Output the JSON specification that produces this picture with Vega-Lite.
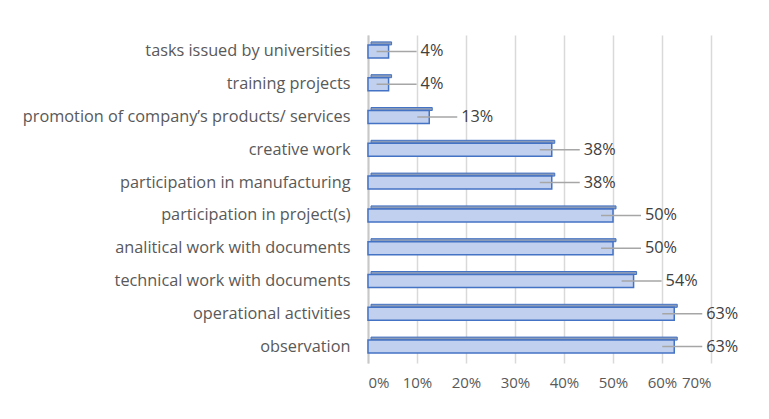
{
  "$schema": "https://vega.github.io/schema/vega-lite/v6.json",
  "autosize": {"type": "none"},
  "width": 343,
  "height": 328,
  "padding": {"left": 368, "top": 35, "right": 58, "bottom": 56},
  "background": "white",
  "config": {
    "view": {"stroke": null},
    "font": "Open Sans",
    "axis": {"labelFont": "Open Sans", "labelFontSize": 16.3, "labelColor": "#595959"}
  },
  "data": {
    "values": [
      {"activity": "tasks issued by universities", "share": 0.042},
      {"activity": "training projects", "share": 0.042},
      {"activity": "promotion of company’s products/ services", "share": 0.125},
      {"activity": "creative work", "share": 0.375},
      {"activity": "participation in manufacturing", "share": 0.375},
      {"activity": "participation in project(s)", "share": 0.5},
      {"activity": "analitical work with documents", "share": 0.5},
      {"activity": "technical work with documents", "share": 0.542},
      {"activity": "operational activities", "share": 0.625},
      {"activity": "observation", "share": 0.625}
    ]
  },
  "encoding": {
    "y": {
      "field": "activity",
      "type": "nominal",
      "sort": null,
      "title": null,
      "axis": {
        "domain": true,
        "domainColor": "#c8c8c8",
        "domainWidth": 2,
        "ticks": false,
        "labelPadding": 18,
        "labelLimit": 400
      }
    }
  },
  "layer": [
    {
      "mark": {"type": "bar", "size": 3, "yOffset": -8, "xOffset": 3, "fill": "#8a9bb8", "stroke": "#4472c4", "strokeWidth": 1},
      "encoding": {
        "x": {
          "field": "share",
          "type": "quantitative",
          "scale": {"domain": [0, 0.7]},
          "title": null,
          "axis": {
            "format": ".0%",
            "values": [0, 0.1, 0.2, 0.3, 0.4, 0.5, 0.6, 0.7],
            "grid": true,
            "gridColor": "#d9d9d9",
            "gridWidth": 1.5,
            "domain": false,
            "ticks": false,
            "labelFontSize": 15,
            "labelPadding": 12
          }
        }
      }
    },
    {
      "mark": {"type": "bar", "size": 13, "fill": "#c0d0ee", "stroke": "#4472c4", "strokeWidth": 1.5},
      "encoding": {
        "x": {"field": "share", "type": "quantitative"}
      }
    },
    {
      "mark": {"type": "rule", "color": "#a6a6a6", "strokeWidth": 1.5, "xOffset": -12, "x2Offset": 28},
      "encoding": {
        "x": {"field": "share", "type": "quantitative"},
        "x2": {"field": "share"}
      }
    },
    {
      "mark": {"type": "text", "align": "left", "baseline": "middle", "dx": 32, "fontSize": 16.3, "color": "#404040", "font": "Open Sans"},
      "encoding": {
        "x": {"field": "share", "type": "quantitative"},
        "text": {"field": "share", "type": "quantitative", "format": ".0%"}
      }
    }
  ]
}
